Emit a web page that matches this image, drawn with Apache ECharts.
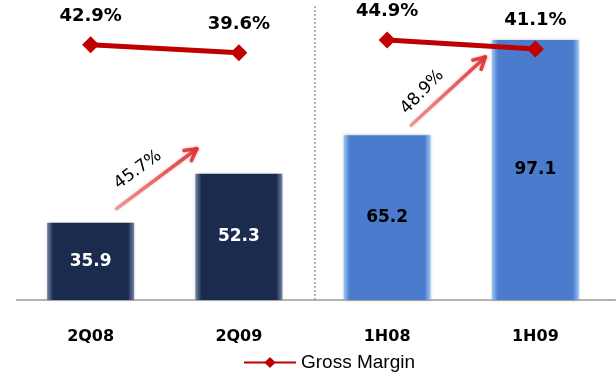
<!DOCTYPE html>
<html>
<head>
<meta charset="utf-8">
<script src="https://cdn.jsdelivr.net/npm/echarts@6/dist/echarts.min.js"></script>
<style>
  html, body { margin: 0; padding: 0; background: #fff; }
  #chart { width: 616px; height: 374px; }
</style>
</head>
<body>
<div id="chart"></div>
<script>
// Periods shown on the x axis
var categories = ['2Q08', '2Q09', '1H08', '1H09'];
// Net revenue per period (bars)
var revenue = [35.9, 52.3, 65.2, 97.1];
// Gross margin per period, in percent (line)
var grossMargin = [42.9, 39.6, 44.9, 41.1];
// Year-on-year growth between compared periods: [from index, to index, label]
var growth = [[0, 1, '45.7%'], [2, 3, '48.9%']];

var quarterColor = { base: '#1B2B4D', edge: '#7386A8', label: '#ffffff' };
var halfColor = { base: '#4A7BCC', edge: '#9CC6F7', label: '#000000' };

function barGradient(c) {
  return new echarts.graphic.LinearGradient(0, 0, 1, 0, [
    { offset: 0, color: c.edge },
    { offset: 0.07, color: c.base },
    { offset: 0.93, color: c.base },
    { offset: 1, color: c.edge }
  ]);
}

var barData = revenue.map(function (v, i) {
  var c = i < 2 ? quarterColor : halfColor;
  return {
    value: v,
    itemStyle: { color: barGradient(c) },
    label: { color: c.label }
  };
});

// The margin line is drawn as two separate segments: quarters and half-years
var marginQuarter = grossMargin.map(function (v, i) { return i < 2 ? v : null; });
var marginHalf = grossMargin.map(function (v, i) { return i >= 2 ? v : null; });

var lineSeries = function (data) {
  return {
    name: 'Gross Margin',
    type: 'line',
    yAxisIndex: 1,
    data: data,
    symbol: 'diamond',
    symbolSize: 17,
    connectNulls: false,
    lineStyle: { color: '#C00000', width: 5 },
    itemStyle: { color: '#C00000' },
    label: {
      show: true,
      position: 'top',
      distance: 11,
      formatter: function (p) { return p.value.toFixed(1) + '%'; },
      fontFamily: 'DejaVu Sans',
      fontWeight: 'bold',
      fontSize: 18,
      color: '#000'
    },
    z: 5
  };
};

var chart = echarts.init(document.getElementById('chart'), null, { renderer: 'canvas' });

chart.setOption({
  animation: false,
  backgroundColor: '#ffffff',
  grid: { left: 16.5, right: 6.5, top: 1.5, bottom: 74 },
  legend: {
    data: ['Gross Margin'],
    left: 243,
    top: 353,
    padding: 0,
    itemWidth: 52,
    itemHeight: 14,
    itemGap: 6,
    lineStyle: { width: 2 },
    textStyle: { fontFamily: 'Liberation Sans', fontSize: 19, color: '#000' }
  },
  xAxis: {
    type: 'category',
    data: categories,
    axisLine: { onZero: false, lineStyle: { color: '#9a9a9a', width: 1.5 } },
    axisTick: { show: false },
    axisLabel: {
      margin: 29,
      fontFamily: 'DejaVu Sans',
      fontWeight: 'bold',
      fontSize: 16,
      color: '#000'
    }
  },
  yAxis: [
    { type: 'value', min: 10, max: 110, show: false, splitLine: { show: false } },
    { type: 'value', min: -63.4, max: 60.9, show: false, splitLine: { show: false } }
  ],
  series: [
    {
      name: 'Revenue',
      type: 'bar',
      data: barData,
      barWidth: 87,
      itemStyle: { shadowColor: 'rgba(0,0,0,0.25)', shadowBlur: 3 },
      label: {
        show: true,
        position: 'inside',
        fontFamily: 'DejaVu Sans',
        fontWeight: 'bold',
        fontSize: 17
      }
    },
    lineSeries(marginQuarter),
    lineSeries(marginHalf)
  ]
});

// Annotations: separator between quarters and half-years, and growth arrows
function px(i, v) { return chart.convertToPixel({ xAxisIndex: 0, yAxisIndex: 0 }, [i, v]); }

var base = px(0, 10)[1];
var sepX = (px(1, 10)[0] + px(2, 10)[0]) / 2 + 2;
var elements = [
  {
    type: 'line',
    shape: { x1: sepX, y1: 6, x2: sepX, y2: base },
    style: { stroke: '#8a8a8a', lineWidth: 1.3, lineDash: [2, 2] },
    silent: true
  },
  {
    type: 'line',
    shape: { x1: 609, y1: base, x2: 616, y2: base },
    style: { stroke: '#9a9a9a', lineWidth: 1.5 },
    silent: true
  }
];

var arrowOffsets = [
  { tail: [26, -14], tip: [-42, -25], text: [-101, -4], rot: 36 },
  { tail: [24, -10], tip: [-50, 17], text: [-113, 52], rot: 46 }
];

growth.forEach(function (g, k) {
  var a = px(g[0], revenue[g[0]]);
  var b = px(g[1], revenue[g[1]]);
  var o = arrowOffsets[k];
  var x1 = a[0] + o.tail[0], y1 = a[1] + o.tail[1];
  var x2 = b[0] + o.tip[0], y2 = b[1] + o.tip[1];
  var ang = Math.atan2(y2 - y1, x2 - x1);
  var hl = 13, spread = 0.5;
  var grad = new echarts.graphic.LinearGradient(x1, y1, x2, y2, [
    { offset: 0, color: 'rgba(225,60,60,0.45)' },
    { offset: 1, color: 'rgba(220,50,50,0.9)' }
  ], true);
  elements.push({
    type: 'line',
    shape: { x1: x1, y1: y1, x2: x2, y2: y2 },
    style: { stroke: grad, lineWidth: 3.5, lineCap: 'round', shadowBlur: 3, shadowColor: 'rgba(220,60,60,0.5)' },
    silent: true
  });
  elements.push({
    type: 'polyline',
    shape: { points: [
      [x2 - hl * Math.cos(ang - spread), y2 - hl * Math.sin(ang - spread)],
      [x2, y2],
      [x2 - hl * Math.cos(ang + spread), y2 - hl * Math.sin(ang + spread)]
    ] },
    style: { stroke: 'rgba(220,50,50,0.9)', lineWidth: 3.5, fill: null, lineCap: 'round', lineJoin: 'round', shadowBlur: 3, shadowColor: 'rgba(220,60,60,0.5)' },
    silent: true
  });
  elements.push({
    type: 'text',
    x: b[0] + o.text[0],
    y: b[1] + o.text[1],
    rotation: o.rot * Math.PI / 180,
    style: {
      text: g[2],
      fontFamily: 'DejaVu Sans',
      fontSize: 17,
      fill: '#000',
      align: 'center',
      verticalAlign: 'middle'
    },
    silent: true
  });
});

chart.setOption({ graphic: { elements: elements } });
</script>
</body>
</html>
